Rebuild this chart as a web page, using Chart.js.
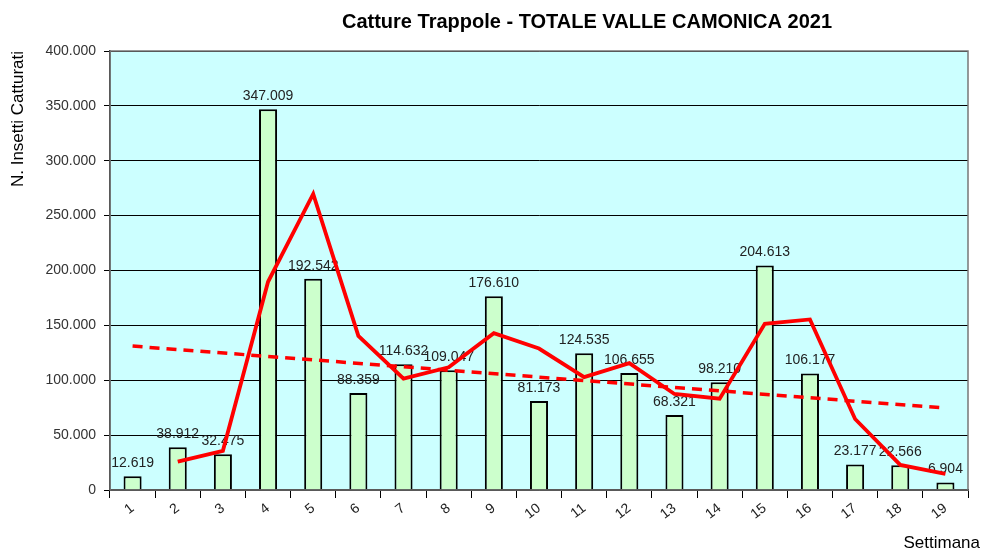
<!DOCTYPE html>
<html>
<head>
<meta charset="utf-8">
<script src="https://cdn.jsdelivr.net/npm/chart.js@4/dist/chart.umd.min.js"></script>
<style>
  html, body { margin: 0; padding: 0; background: #fff; }
  canvas { display: block; }
</style>
</head>
<body>
<canvas id="chart" width="983" height="552"></canvas>
<script>
//--------------------------------------DATA----------------------------------------
const settimane = ['1','2','3','4','5','6','7','8','9','10','11','12','13','14','15','16','17','18','19']
const catture = [12619, 38912, 32475, 347009, 192542, 88359, 114632, 109047, 176610, 81173, 124535, 106655, 68321, 98210, 204613, 106177, 23177, 22566, 6904]
// media mobile 2 periodi (linea rossa)
const mediaMobile = [null, 25766, 35694, 189742, 269776, 140451, 101496, 111840, 142829, 128892, 102854, 115595, 87488, 83266, 151412, 155395, 64677, 22872, 14735]
// tendenza lineare (tratteggiata): solo i due estremi
const tendenza = [131108, null, null, null, null, null, null, null, null, null, null, null, null, null, null, null, null, null, 74632]
const yTicks = [0, 50000, 100000, 150000, 200000, 250000, 300000, 350000, 400000]

const FONT = '"Liberation Sans", Arial, sans-serif'

//--------------------------------------HELPERS-------------------------------------
function fmt(v){
    if(v === 0) return '0'
    return String(v).replace(/\B(?=(\d{3})+(?!\d))/g, '.')
}

const plotBackground = {
    id: 'plotBackground',
    beforeDraw(chart){
        const {ctx, chartArea} = chart
        ctx.save()
        ctx.fillStyle = '#ccffff'
        ctx.fillRect(chartArea.left, chartArea.top, chartArea.right - chartArea.left, chartArea.bottom - chartArea.top)
        ctx.restore()
    },
    afterDraw(chart){
        const {ctx, chartArea} = chart
        ctx.save()
        ctx.strokeStyle = '#777'
        ctx.lineWidth = 1.5
        ctx.strokeRect(chartArea.left, chartArea.top, chartArea.right - chartArea.left, chartArea.bottom - chartArea.top)
        // titolo e titolo asse x
        ctx.fillStyle = '#000'
        ctx.font = 'bold 20px ' + FONT
        ctx.textAlign = 'center'
        ctx.textBaseline = 'middle'
        ctx.fillText('Catture Trappole - TOTALE VALLE CAMONICA 2021', 587, 22)
        ctx.font = '17px ' + FONT
        ctx.textAlign = 'right'
        ctx.fillText('Settimana', 980, 543)
        ctx.restore()
    }
}

const barLabels = {
    id: 'barLabels',
    beforeDatasetsDraw(chart){
        const {ctx} = chart
        const meta = chart.getDatasetMeta(2)
        ctx.save()
        ctx.font = '14px ' + FONT
        ctx.fillStyle = '#222'
        ctx.textAlign = 'center'
        ctx.textBaseline = 'bottom'
        meta.data.forEach((bar, i) => {
            ctx.fillText(fmt(catture[i]), bar.x, bar.y - 6)
        })
        ctx.restore()
    }
}

//--------------------------------------CHART---------------------------------------
new Chart(document.getElementById('chart'), {
    type: 'bar',
    data: {
        labels: settimane,
        datasets: [
            {
                type: 'line',
                data: mediaMobile,
                borderColor: '#ff0000',
                borderWidth: 3.8,
                pointRadius: 0,
                tension: 0,
                order: 1
            },
            {
                type: 'line',
                data: tendenza,
                borderColor: '#ff0000',
                borderWidth: 3.5,
                borderDash: [10, 7],
                pointRadius: 0,
                spanGaps: true,
                order: 2
            },
            {
                type: 'bar',
                data: catture,
                backgroundColor: '#ccffcc',
                borderColor: '#000',
                borderWidth: 2,
                barPercentage: 0.4,
                categoryPercentage: 1,
                order: 3
            }
        ]
    },
    options: {
        responsive: false,
        animation: false,
        layout: { padding: { left: 8, right: 15, top: 51, bottom: 0 } },
        plugins: {
            legend: { display: false },
            tooltip: { enabled: false },
            title: { display: false }
        },
        scales: {
            x: {
                afterFit(scale){ scale.height = 62 },
                grid: { display: true, drawOnChartArea: false, color: '#000', tickLength: 8, offset: true },
                border: { color: '#000', width: 1.5 },
                ticks: {
                    color: '#222',
                    minRotation: 38,
                    maxRotation: 38,
                    padding: 2,
                    font: { family: FONT, size: 14 }
                }
            },
            y: {
                min: 0,
                max: 400000,
                afterFit(scale){ scale.width = 102 },
                afterBuildTicks(scale){ scale.ticks = yTicks.map(v => ({value: v})) },
                grid: { color: '#000', lineWidth: 1, tickLength: 6 },
                border: { color: '#000', width: 1.5 },
                ticks: {
                    color: '#333',
                    padding: 8,
                    font: { family: FONT, size: 14 },
                    callback: (v) => fmt(v)
                },
                title: {
                    display: true,
                    text: 'N. Insetti Catturati',
                    align: 'end',
                    color: '#000',
                    font: { family: FONT, size: 17 },
                    padding: { top: 0, bottom: 4 }
                }
            }
        }
    },
    plugins: [plotBackground, barLabels]
})
</script>
</body>
</html>
